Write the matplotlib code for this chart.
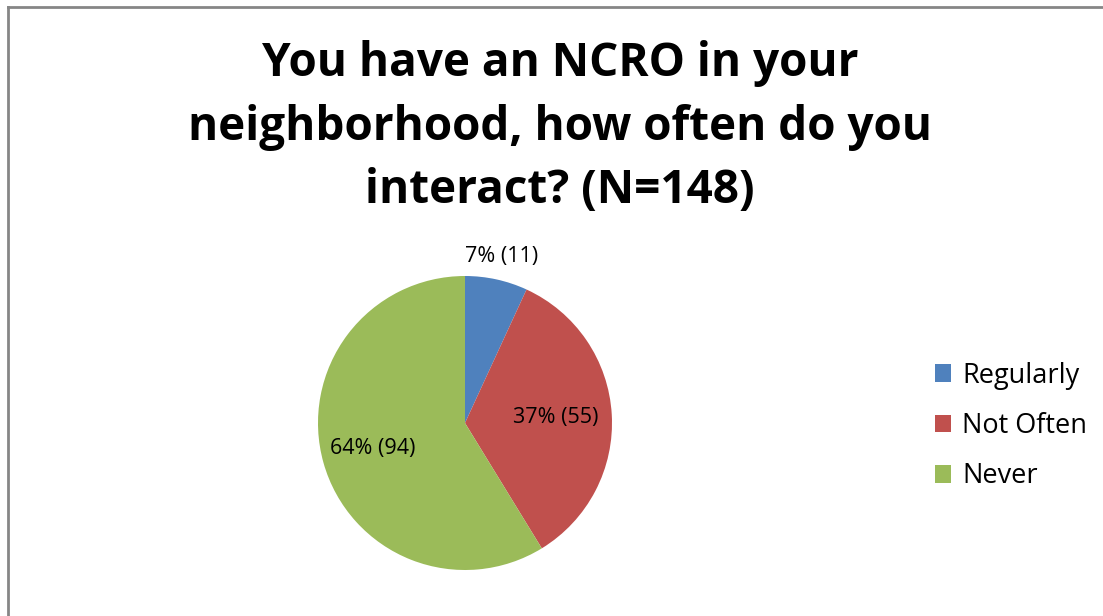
import numpy as np
import matplotlib
matplotlib.use("Agg")
import matplotlib.pyplot as plt
from matplotlib.lines import Line2D

categories = ["Regularly", "Not Often", "Never"]
counts = [11, 55, 94]
pct_labels = ["7% (11)", "37% (55)", "64% (94)"]
colors = ["#4F81BD", "#C0504D", "#9BBB59"]
title = "You have an NCRO in your\nneighborhood, how often do you\ninteract? (N=148)"

plt.rcParams['font.family'] = ['Open Sans', 'DejaVu Sans']

W, H = 1103, 616
fig = plt.figure(figsize=(W / 100, H / 100), dpi=100)

# chart frame (only the top and left edges fall inside the image)
fig.add_artist(Line2D([7.5 / W, 7.5 / W], [0, 1 - 6.5 / H], transform=fig.transFigure,
                      color="#868686", lw=2))
fig.add_artist(Line2D([7.5 / W, 1], [1 - 6.5 / H, 1 - 6.5 / H], transform=fig.transFigure,
                      color="#868686", lw=2))

fig.text(560 / W, 1 - 127 / H, title, ha="center", va="center", fontsize=33,
         fontweight="bold", linespacing=1.47)

# pie centred at (465, 423) px with radius 147 px
cx, cy, r = 465, 423, 147
ax = fig.add_axes([(cx - r) / W, 1 - (cy + r) / H, 2 * r / W, 2 * r / H])
wedges, _ = ax.pie(counts, colors=colors, startangle=90, counterclock=False,
                   radius=1, wedgeprops=dict(linewidth=0))
ax.set_xlim(-1, 1)
ax.set_ylim(-1, 1)
ax.set_aspect("equal")
ax.axis("off")

label_dist = [1.16, 0.62, 0.65]
for w, txt, d in zip(wedges, pct_labels, label_dist):
    ang = np.deg2rad((w.theta1 + w.theta2) / 2)
    ax.text(d * np.cos(ang), d * np.sin(ang), txt, ha="center", va="center",
            fontsize=15.5, color="black", clip_on=False)

fig.legend(wedges, categories, loc="center left", bbox_to_anchor=(935 / W, 1 - 426 / H),
           frameon=False, fontsize=19.5, handlelength=0.6, handleheight=0.6,
           handletextpad=0.4, labelspacing=0.83, borderpad=0, borderaxespad=0)

fig.savefig("out.png", dpi=100, facecolor="white")
